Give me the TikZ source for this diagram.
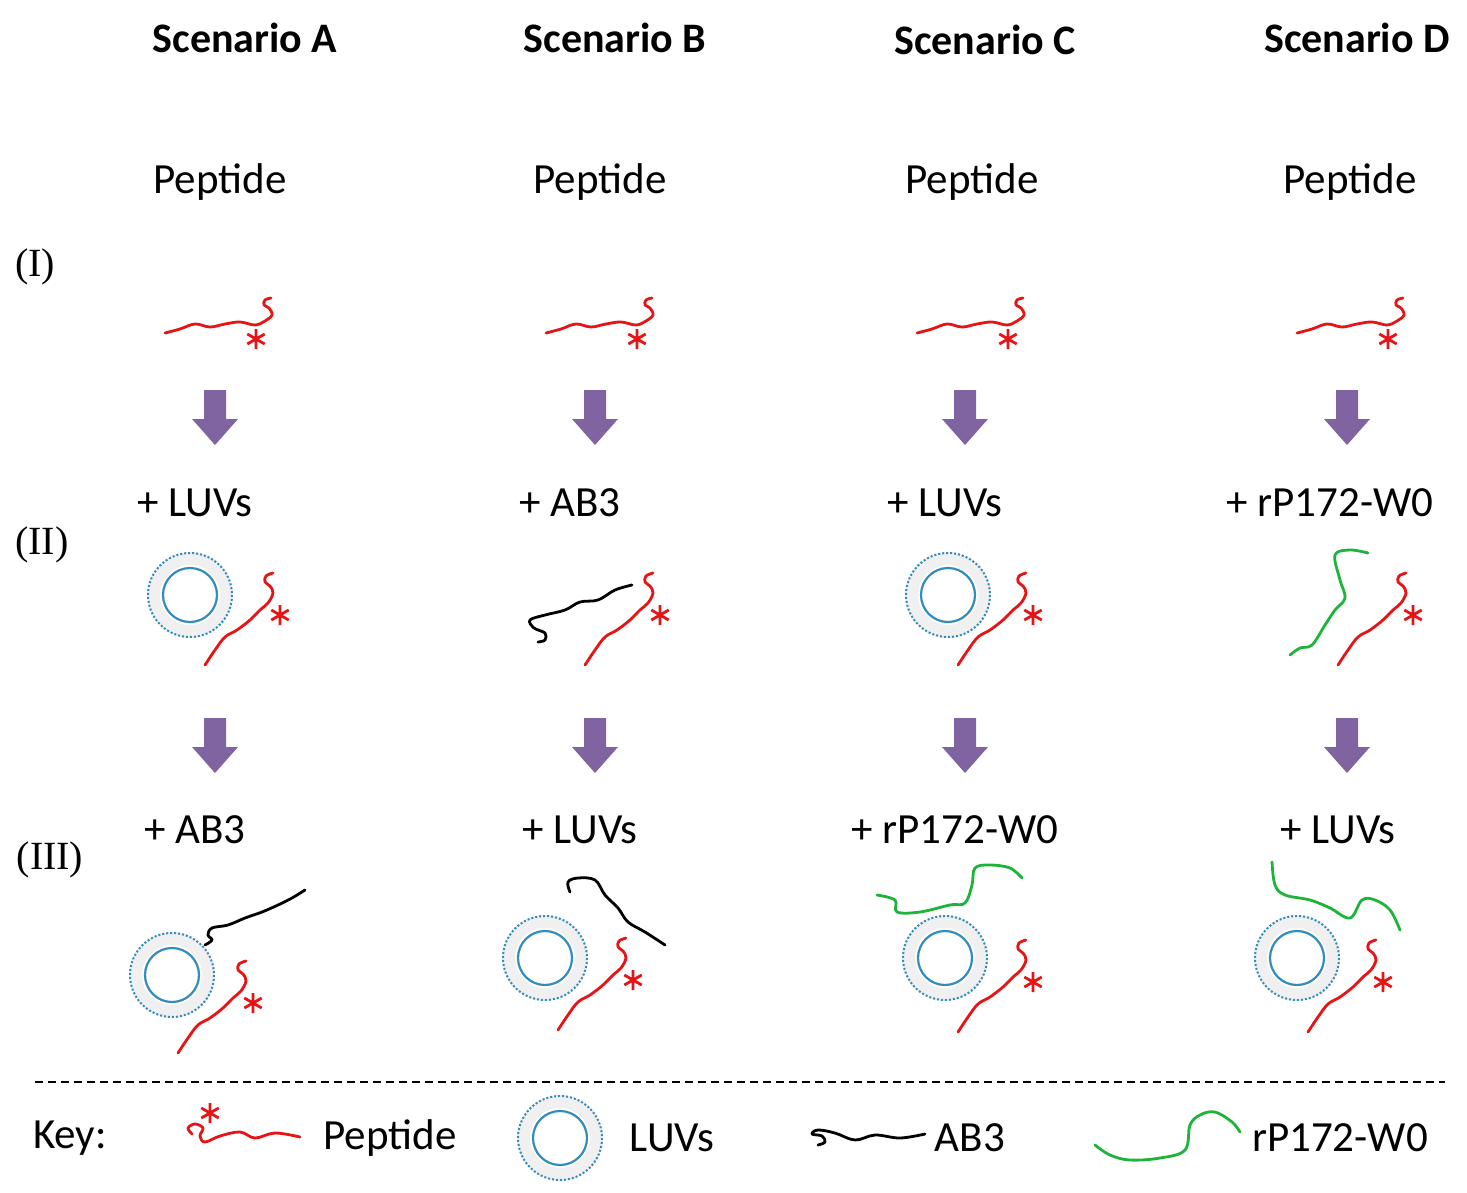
\documentclass[tikz,border=0pt]{standalone}
\usepackage{fontspec}
\setmainfont{Carlito}
\newfontfamily\rom{Liberation Serif}
\definecolor{pep}{RGB}{230,20,20}
\definecolor{luvb}{RGB}{50,140,190}
\definecolor{arr}{RGB}{128,100,162}
\definecolor{grn}{RGB}{30,180,60}
\begin{document}
\begin{tikzpicture}[x=1pt,y=-1pt,
  lab/.style={font=\fontsize{43}{50}\selectfont,anchor=center},
  ttl/.style={font=\fontsize{42}{50}\selectfont\bfseries},
  rn/.style={font=\rom\fontsize{40}{46}\selectfont},
  chain/.style={line width=2.8pt,line cap=round,line join=round},
  star/.pic={\draw[pep,line width=2.8pt] (0,-10)--(0,10) (-8.7,-5)--(8.7,5) (-8.7,5)--(8.7,-5);},
  darr/.pic={\fill[arr] (-11,-27)--(11,-27)--(11,2)--(23,2)--(0,28)--(-23,2)--(-11,2)--cycle;},
  pepH/.pic={\draw[chain,pep] plot[smooth,tension=0.6] coordinates{(0,0)(15,-4)(30,-9)(45,-6)(60,-9)(75,-11)(90,-8)(100,-12)(107,-18)(104,-25)(99,-28)(100,-33)(106,-35)};
    \pic at (91,6) {star};},
  pepD/.pic={\draw[chain,pep] plot[smooth,tension=0.6] coordinates{(0,0)(10,-15)(20,-28)(32,-35)(45,-45)(55,-55)(63,-62)(68,-72)(65,-79)(60,-83)(61,-89)(68,-92)};
    \pic at (75,-50) {star};},
  luv/.pic={\fill[gray!12,even odd rule] (0,0) circle (43) (0,0) circle (30);
    \draw[luvb,line width=2pt,dotted] (0,0) circle (42);
    \draw[luvb,line width=2.2pt] (0,0) circle (27);}
]
\useasboundingbox (0,0) rectangle (1467,1192);
\node[ttl] (tA) at (245,38) {Scenario A};
\node[ttl] (tB) at (615,38) {Scenario B};
\node[ttl] (tC) at (985,40) {Scenario C};
\node[ttl] (tD) at (1357,38) {Scenario D};
\foreach \x/\n in {220/A,600/B,972/C,1350/D} \node[lab] (p\n) at (\x,182) {Peptide};
\node[rn] (r1) at (35,267) {(I)};
\node[rn] (r2) at (42,545) {(II)};
\node[rn] (r3) at (50,860) {(III)};
\foreach \x in {165,546,917,1297} \pic at (\x,333) {pepH};
\foreach \x in {215,595,965,1347}{
  \pic at (\x,417) {darr};
  \pic at (\x,745) {darr};}
\node[lab] (l2A) at (195,503) {+ LUVs};
\node[lab] (l2B) at (570,503) {+ AB3};
\node[lab] (l2C) at (945,503) {+ LUVs};
\node[lab] (l2D) at (1330,503) {+ rP172-W0};
\pic at (190,595) {luv};
\pic at (205,665) {pepD};
\draw[chain,black] plot[smooth,tension=0.6] coordinates{(538,642)(545,640)(545,633)(534,628)(530,620)(545,615)(565,610)(580,602)(598,600)(615,590)(632,585)};
\pic at (585,665) {pepD};
\pic at (948,595) {luv};
\pic at (958,665) {pepD};
\draw[chain,grn] plot[smooth,tension=0.6] coordinates{(1290,655)(1300,648)(1312,645)(1325,625)(1335,610)(1345,598)(1340,580)(1335,555)(1350,550)(1368,553)};
\pic at (1338,665) {pepD};
\node[lab] (l3A) at (195,830) {+ AB3};
\node[lab] (l3B) at (580,830) {+ LUVs};
\node[lab] (l3C) at (955,830) {+ rP172-W0};
\node[lab] (l3D) at (1338,830) {+ LUVs};
\pic at (172,975) {luv};
\pic at (178,1053) {pepD};
\draw[chain,black] plot[smooth,tension=0.6] coordinates{(205,945)(212,940)(208,935)(212,928)(228,925)(245,918)(262,912)(278,905)(292,898)(305,890)};
\pic at (545,958) {luv};
\pic at (558,1030) {pepD};
\draw[chain,black] plot[smooth,tension=0.6] coordinates{(570,892)(568,882)(578,878)(595,880)(605,895)(618,908)(628,922)(645,932)(665,945)};
\pic at (945,958) {luv};
\pic at (958,1032) {pepD};
\draw[chain,grn] plot[smooth,tension=0.6] coordinates{(877,895)(895,900)(897,912)(920,912)(950,905)(965,903)(972,885)(975,868)(990,865)(1010,868)(1022,878)};
\pic at (1297,958) {luv};
\pic at (1308,1032) {pepD};
\draw[chain,grn] plot[smooth,tension=0.6] coordinates{(1272,862)(1275,885)(1285,895)(1310,900)(1330,908)(1350,918)(1362,900)(1375,900)(1390,910)(1400,930)};
\draw[line width=2.2pt,dash pattern=on 8pt off 5pt] (35,1082) coordinate (k1) -- (1445,1082) coordinate (k2);
\node[lab] (kk) at (70,1138) {Key:};
\draw[chain,pep] plot[smooth,tension=0.6] coordinates{(192,1134)(188,1128)(195,1124)(203,1128)(200,1136)(205,1142)(220,1136)(240,1132)(255,1138)(275,1133)(300,1137)};
\pic at (210,1113) {star};
\node[lab] (kp) at (390,1138) {Peptide};
\pic at (560,1138) {luv};
\node[lab] (kl) at (672,1138) {LUVs};
\draw[chain,black] plot[smooth,tension=0.6] coordinates{(818,1145)(825,1142)(822,1136)(812,1134)(818,1130)(835,1133)(855,1140)(875,1135)(900,1138)(925,1134)};
\node[lab] (ka) at (970,1138) {AB3};
\draw[chain,grn] plot[smooth,tension=0.6] coordinates{(1095,1145)(1110,1155)(1130,1160)(1160,1158)(1185,1150)(1190,1125)(1200,1115)(1215,1112)(1232,1122)(1240,1132)};
\node[lab] (kg) at (1340,1138) {rP172-W0};
\end{tikzpicture}
\end{document}
